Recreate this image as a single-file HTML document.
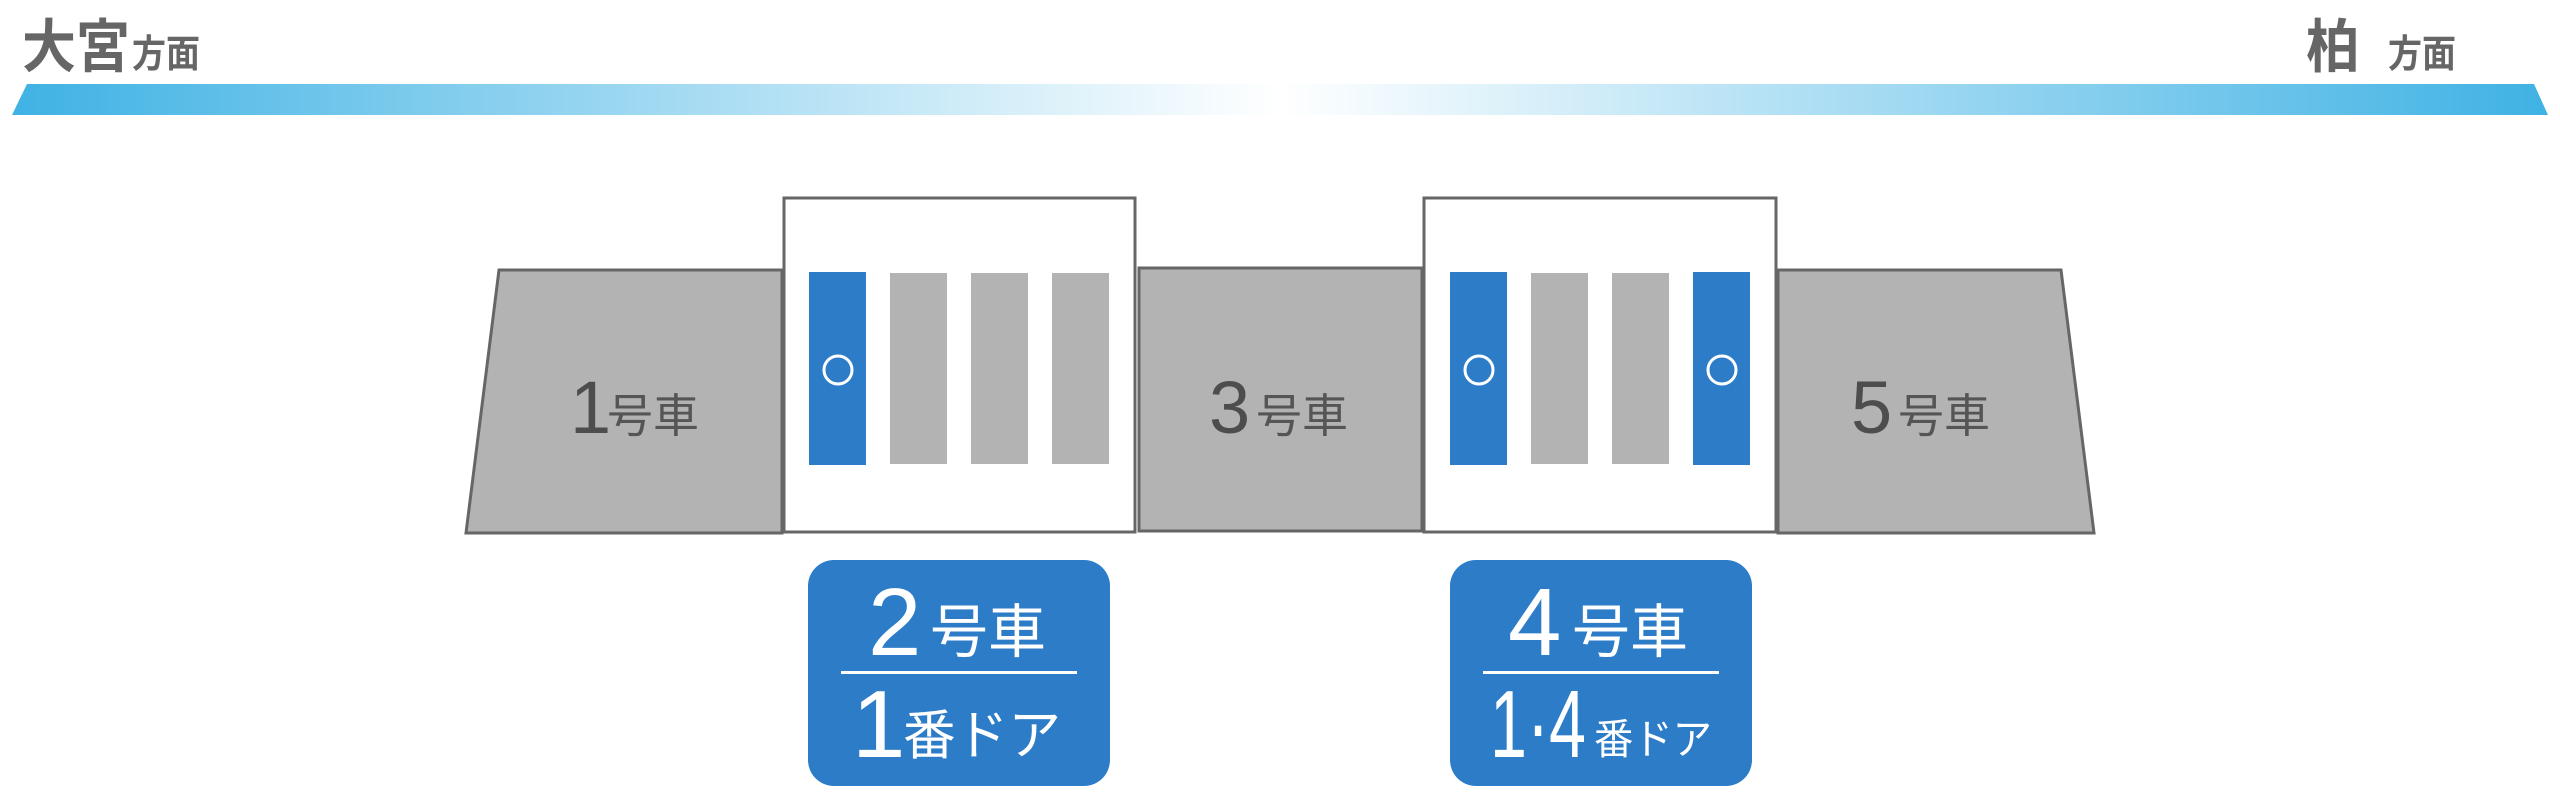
<!DOCTYPE html>
<html><head><meta charset="utf-8"><style>
html,body{margin:0;padding:0;background:#fff;}
svg{display:block;}
text{font-family:"Liberation Sans","Noto Sans CJK JP",sans-serif;}
</style></head><body>
<svg width="2560" height="812" viewBox="0 0 2560 812" xmlns="http://www.w3.org/2000/svg">
<defs>
<linearGradient id="g" x1="0" x2="1" y1="0" y2="0">
<stop offset="0" stop-color="#3fb2e4"/>
<stop offset="0.5" stop-color="#ffffff"/>
<stop offset="1" stop-color="#3fb2e4"/>
</linearGradient>
</defs>
<polygon points="27,84 2534,84 2548,115 12,115" fill="url(#g)"/>
<text x="22" y="67" font-size="58" font-weight="bold" fill="#666" textLength="108" lengthAdjust="spacingAndGlyphs">大宮</text>
<text x="132" y="67" font-size="38" font-weight="bold" fill="#666" textLength="68" lengthAdjust="spacingAndGlyphs">方面</text>
<text x="2306" y="67" font-size="58" font-weight="bold" fill="#666" textLength="54" lengthAdjust="spacingAndGlyphs">柏</text>
<text x="2388" y="67" font-size="38" font-weight="bold" fill="#666" textLength="68" lengthAdjust="spacingAndGlyphs">方面</text>

<g stroke="#666" stroke-width="3">
<polygon points="499,270 782,270 782,533 466,533" fill="#b3b3b3"/>
<rect x="784" y="198" width="351" height="334" fill="#fff"/>
<rect x="1139" y="268" width="283" height="263" fill="#b3b3b3"/>
<rect x="1424" y="198" width="352" height="334" fill="#fff"/>
<polygon points="1778,270 2061,270 2094,533 1778,533" fill="#b3b3b3"/>
</g>
<g fill="#b3b3b3">
<rect x="890" y="273" width="57" height="191"/>
<rect x="971" y="273" width="57" height="191"/>
<rect x="1052" y="273" width="57" height="191"/>
<rect x="1531" y="273" width="57" height="191"/>
<rect x="1612" y="273" width="57" height="191"/>
</g>
<g fill="#2c7cc8">
<rect x="809" y="272" width="57" height="193"/>
<rect x="1450" y="272" width="57" height="193"/>
<rect x="1693" y="272" width="57" height="193"/>
</g>
<g fill="none" stroke="#fff" stroke-width="3">
<circle cx="838" cy="370" r="14"/>
<circle cx="1479" cy="370" r="14"/>
<circle cx="1722" cy="370" r="14"/>
</g>
<g fill="#4d4d4d">
<text x="570" y="433" font-size="74">1</text>
<text x="607" y="432" font-size="46" fill="#555" textLength="92" lengthAdjust="spacingAndGlyphs">号車</text>
<text x="1209" y="433" font-size="74">3</text>
<text x="1256" y="432" font-size="46" fill="#555" textLength="92" lengthAdjust="spacingAndGlyphs">号車</text>
<text x="1851" y="433" font-size="74">5</text>
<text x="1898" y="432" font-size="46" fill="#555" textLength="92" lengthAdjust="spacingAndGlyphs">号車</text>
</g>

<rect x="808" y="560" width="302" height="226" rx="26" fill="#2c7cc8"/>
<rect x="1450" y="560" width="302" height="226" rx="26" fill="#2c7cc8"/>
<rect x="841" y="671" width="236" height="3" fill="#fff"/>
<rect x="1483" y="671" width="236" height="3" fill="#fff"/>
<g fill="#fff">
<text x="868" y="655" font-size="96">2</text>
<text x="930" y="652" font-size="58" textLength="116" lengthAdjust="spacingAndGlyphs">号車</text>
<text x="852" y="757" font-size="96">1</text>
<text x="903" y="754" font-size="54" textLength="158" lengthAdjust="spacingAndGlyphs">番ドア</text>
<text x="1508" y="655" font-size="96">4</text>
<text x="1572" y="652" font-size="58" textLength="116" lengthAdjust="spacingAndGlyphs">号車</text>
<text x="1490" y="757" font-size="96" textLength="96" lengthAdjust="spacingAndGlyphs">1·4</text>
<text x="1594" y="754" font-size="42" textLength="118" lengthAdjust="spacingAndGlyphs">番ドア</text>
</g>
</svg>
</body></html>
